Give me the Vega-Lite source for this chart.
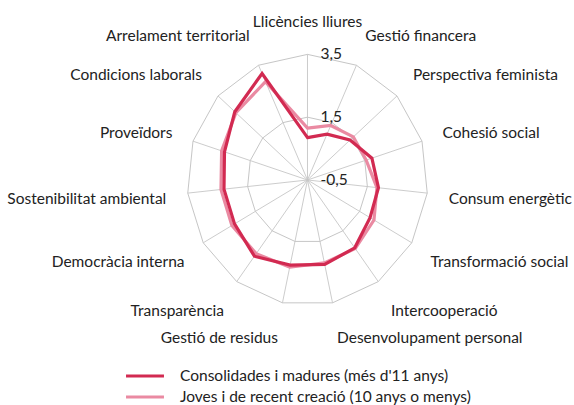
{
  "$schema": "https://vega.github.io/schema/vega-lite/v6.json",
  "width": 574,
  "height": 405,
  "autosize": {"type": "none"},
  "padding": 0,
  "background": "white",
  "config": {"view": {"stroke": null}, "font": "Lato"},
  "datasets": {
    "axes": [
      {"order": 0, "axis": "Llicències lliures"},
      {"order": 1, "axis": "Gestió financera"},
      {"order": 2, "axis": "Perspectiva feminista"},
      {"order": 3, "axis": "Cohesió social"},
      {"order": 4, "axis": "Consum energètic"},
      {"order": 5, "axis": "Transformació social"},
      {"order": 6, "axis": "Intercooperació"},
      {"order": 7, "axis": "Desenvolupament personal"},
      {"order": 8, "axis": "Gestió de residus"},
      {"order": 9, "axis": "Transparència"},
      {"order": 10, "axis": "Democràcia interna"},
      {"order": 11, "axis": "Sostenibilitat ambiental"},
      {"order": 12, "axis": "Proveïdors"},
      {"order": 13, "axis": "Condicions laborals"},
      {"order": 14, "axis": "Arrelament territorial"}
    ],
    "scores": [
      {"order": 0, "axis": "Llicències lliures", "group": "Consolidades i madures (més d'11 anys)", "value": 0.85},
      {"order": 1, "axis": "Gestió financera", "group": "Consolidades i madures (més d'11 anys)", "value": 1.1},
      {"order": 2, "axis": "Perspectiva feminista", "group": "Consolidades i madures (més d'11 anys)", "value": 1.4},
      {"order": 3, "axis": "Cohesió social", "group": "Consolidades i madures (més d'11 anys)", "value": 1.75},
      {"order": 4, "axis": "Consum energètic", "group": "Consolidades i madures (més d'11 anys)", "value": 1.87},
      {"order": 5, "axis": "Transformació social", "group": "Consolidades i madures (més d'11 anys)", "value": 1.9},
      {"order": 6, "axis": "Intercooperació", "group": "Consolidades i madures (més d'11 anys)", "value": 2.17},
      {"order": 7, "axis": "Desenvolupament personal", "group": "Consolidades i madures (més d'11 anys)", "value": 2.25},
      {"order": 8, "axis": "Gestió de residus", "group": "Consolidades i madures (més d'11 anys)", "value": 2.27},
      {"order": 9, "axis": "Transparència", "group": "Consolidades i madures (més d'11 anys)", "value": 2.5},
      {"order": 10, "axis": "Democràcia interna", "group": "Consolidades i madures (més d'11 anys)", "value": 2.3},
      {"order": 11, "axis": "Sostenibilitat ambiental", "group": "Consolidades i madures (més d'11 anys)", "value": 2.29},
      {"order": 12, "axis": "Proveïdors", "group": "Consolidades i madures (més d'11 anys)", "value": 2.4},
      {"order": 13, "axis": "Condicions laborals", "group": "Consolidades i madures (més d'11 anys)", "value": 2.75},
      {"order": 14, "axis": "Arrelament territorial", "group": "Consolidades i madures (més d'11 anys)", "value": 3.21},
      {"order": 0, "axis": "Llicències lliures", "group": "Joves i de recent creació (10 anys o menys)", "value": 1.15},
      {"order": 1, "axis": "Gestió financera", "group": "Joves i de recent creació (10 anys o menys)", "value": 1.4},
      {"order": 2, "axis": "Perspectiva feminista", "group": "Joves i de recent creació (10 anys o menys)", "value": 1.55},
      {"order": 3, "axis": "Cohesió social", "group": "Joves i de recent creació (10 anys o menys)", "value": 1.55},
      {"order": 4, "axis": "Consum energètic", "group": "Joves i de recent creació (10 anys o menys)", "value": 1.82},
      {"order": 5, "axis": "Transformació social", "group": "Joves i de recent creació (10 anys o menys)", "value": 2.05},
      {"order": 6, "axis": "Intercooperació", "group": "Joves i de recent creació (10 anys o menys)", "value": 2.2},
      {"order": 7, "axis": "Desenvolupament personal", "group": "Joves i de recent creació (10 anys o menys)", "value": 2.2},
      {"order": 8, "axis": "Gestió de residus", "group": "Joves i de recent creació (10 anys o menys)", "value": 2.34},
      {"order": 9, "axis": "Transparència", "group": "Joves i de recent creació (10 anys o menys)", "value": 2.4},
      {"order": 10, "axis": "Democràcia interna", "group": "Joves i de recent creació (10 anys o menys)", "value": 2.4},
      {"order": 11, "axis": "Sostenibilitat ambiental", "group": "Joves i de recent creació (10 anys o menys)", "value": 2.39},
      {"order": 12, "axis": "Proveïdors", "group": "Joves i de recent creació (10 anys o menys)", "value": 2.5},
      {"order": 13, "axis": "Condicions laborals", "group": "Joves i de recent creació (10 anys o menys)", "value": 2.7},
      {"order": 14, "axis": "Arrelament territorial", "group": "Joves i de recent creació (10 anys o menys)", "value": 2.93}
    ],
    "ticks": [
      {"value": -0.5, "label": "-0,5"},
      {"value": 1.5, "label": "1,5"},
      {"value": 3.5, "label": "3,5"}
    ]
  },
  "layer": [
    {
      "data": {"name": "axes"},
      "transform": [
        {"calculate": "datum.order * 2 * PI / 15", "as": "a"},
        {"calculate": "0", "as": "zero"},
        {"calculate": "4 * sin(datum.a)", "as": "ex"},
        {"calculate": "4 * cos(datum.a)", "as": "ey"}
      ],
      "mark": {"type": "rule", "color": "#c6c6c6", "strokeWidth": 0.9},
      "encoding": {
        "x": {"field": "zero", "type": "quantitative", "scale": {"domain": [-10.216, 8.854], "nice": false, "zero": false}, "axis": null},
        "y": {"field": "zero", "type": "quantitative", "scale": {"domain": [-7.166, 5.732], "nice": false, "zero": false}, "axis": null},
        "x2": {"field": "ex"},
        "y2": {"field": "ey"}
      }
    },
    {
      "data": {"name": "axes"},
      "transform": [
        {"calculate": "datum.order * 2 * PI / 15", "as": "a"},
        {"calculate": "2 * sin(datum.a)", "as": "px"},
        {"calculate": "2 * cos(datum.a)", "as": "py"}
      ],
      "mark": {"type": "line", "interpolate": "linear-closed", "color": "#c6c6c6", "strokeWidth": 1},
      "encoding": {
        "x": {"field": "px", "type": "quantitative", "scale": {"domain": [-10.216, 8.854], "nice": false, "zero": false}, "axis": null},
        "y": {"field": "py", "type": "quantitative", "scale": {"domain": [-7.166, 5.732], "nice": false, "zero": false}, "axis": null},
        "order": {"field": "order"}
      }
    },
    {
      "data": {"name": "axes"},
      "transform": [
        {"calculate": "datum.order * 2 * PI / 15", "as": "a"},
        {"calculate": "4 * sin(datum.a)", "as": "px"},
        {"calculate": "4 * cos(datum.a)", "as": "py"}
      ],
      "mark": {"type": "line", "interpolate": "linear-closed", "color": "#c6c6c6", "strokeWidth": 1},
      "encoding": {
        "x": {"field": "px", "type": "quantitative", "scale": {"domain": [-10.216, 8.854], "nice": false, "zero": false}, "axis": null},
        "y": {"field": "py", "type": "quantitative", "scale": {"domain": [-7.166, 5.732], "nice": false, "zero": false}, "axis": null},
        "order": {"field": "order"}
      }
    },
    {
      "data": {"name": "scores"},
      "transform": [
        {"filter": "datum.group == 'Joves i de recent creació (10 anys o menys)'"},
        {"calculate": "datum.order * 2 * PI / 15", "as": "a"},
        {"calculate": "(datum.value + 0.5) * sin(datum.a)", "as": "px"},
        {"calculate": "(datum.value + 0.5) * cos(datum.a)", "as": "py"}
      ],
      "mark": {"type": "line", "interpolate": "linear-closed", "strokeWidth": 3.2},
      "encoding": {
        "x": {"field": "px", "type": "quantitative", "scale": {"domain": [-10.216, 8.854], "nice": false, "zero": false}, "axis": null},
        "y": {"field": "py", "type": "quantitative", "scale": {"domain": [-7.166, 5.732], "nice": false, "zero": false}, "axis": null},
        "order": {"field": "order"},
        "color": {
          "field": "group", "type": "nominal",
          "scale": {"domain": ["Consolidades i madures (més d'11 anys)", "Joves i de recent creació (10 anys o menys)"], "range": ["#d22a51", "#ea8aa2"]},
          "legend": {
            "orient": "none", "legendX": 137, "legendY": 368, "title": null,
            "symbolType": "M-3,0H3", "symbolSize": 160, "symbolStrokeWidth": 3.2,
            "labelFontSize": 15.5, "labelColor": "#222222", "labelFont": "Lato",
            "labelOffset": 27, "rowPadding": 4, "labelLimit": 400
          }
        }
      }
    },
    {
      "data": {"name": "scores"},
      "transform": [
        {"filter": "datum.group == \"Consolidades i madures (més d'11 anys)\""},
        {"calculate": "datum.order * 2 * PI / 15", "as": "a"},
        {"calculate": "(datum.value + 0.5) * sin(datum.a)", "as": "px"},
        {"calculate": "(datum.value + 0.5) * cos(datum.a)", "as": "py"}
      ],
      "mark": {"type": "line", "interpolate": "linear-closed", "strokeWidth": 3.2},
      "encoding": {
        "x": {"field": "px", "type": "quantitative", "scale": {"domain": [-10.216, 8.854], "nice": false, "zero": false}, "axis": null},
        "y": {"field": "py", "type": "quantitative", "scale": {"domain": [-7.166, 5.732], "nice": false, "zero": false}, "axis": null},
        "order": {"field": "order"},
        "color": {"field": "group", "type": "nominal"}
      }
    },
    {
      "data": {"name": "ticks"},
      "transform": [
        {"calculate": "0", "as": "zero"},
        {"calculate": "datum.value + 0.5", "as": "py"}
      ],
      "mark": {"type": "text", "align": "left", "baseline": "middle", "dx": 13, "fontSize": 15.5, "color": "#222222", "font": "Lato"},
      "encoding": {
        "x": {"field": "zero", "type": "quantitative", "scale": {"domain": [-10.216, 8.854], "nice": false, "zero": false}, "axis": null},
        "y": {"field": "py", "type": "quantitative", "scale": {"domain": [-7.166, 5.732], "nice": false, "zero": false}, "axis": null},
        "text": {"field": "label"}
      }
    },
    {
      "data": {"name": "axes"},
      "transform": [
        {"filter": "datum.order == 0"},
        {"calculate": "datum.order * 2 * PI / 15", "as": "a"},
        {"calculate": "4.718 * sin(datum.a)", "as": "px"},
        {"calculate": "5.086 * cos(datum.a) - 0.06", "as": "py"}
      ],
      "mark": {"type": "text", "align": "center", "baseline": "middle", "fontSize": 15.5, "color": "#222222", "font": "Lato"},
      "encoding": {
        "x": {"field": "px", "type": "quantitative", "scale": {"domain": [-10.216, 8.854], "nice": false, "zero": false}, "axis": null},
        "y": {"field": "py", "type": "quantitative", "scale": {"domain": [-7.166, 5.732], "nice": false, "zero": false}, "axis": null},
        "text": {"field": "axis"}
      }
    },
    {
      "data": {"name": "axes"},
      "transform": [
        {"filter": "datum.order >= 1 && datum.order <= 7"},
        {"calculate": "datum.order * 2 * PI / 15", "as": "a"},
        {"calculate": "4.718 * sin(datum.a)", "as": "px"},
        {"calculate": "5.086 * cos(datum.a) - 0.06", "as": "py"}
      ],
      "mark": {"type": "text", "align": "left", "baseline": "middle", "fontSize": 15.5, "color": "#222222", "font": "Lato"},
      "encoding": {
        "x": {"field": "px", "type": "quantitative", "scale": {"domain": [-10.216, 8.854], "nice": false, "zero": false}, "axis": null},
        "y": {"field": "py", "type": "quantitative", "scale": {"domain": [-7.166, 5.732], "nice": false, "zero": false}, "axis": null},
        "text": {"field": "axis"}
      }
    },
    {
      "data": {"name": "axes"},
      "transform": [
        {"filter": "datum.order >= 8"},
        {"calculate": "datum.order * 2 * PI / 15", "as": "a"},
        {"calculate": "4.718 * sin(datum.a)", "as": "px"},
        {"calculate": "5.086 * cos(datum.a) - 0.06", "as": "py"}
      ],
      "mark": {"type": "text", "align": "right", "baseline": "middle", "fontSize": 15.5, "color": "#222222", "font": "Lato"},
      "encoding": {
        "x": {"field": "px", "type": "quantitative", "scale": {"domain": [-10.216, 8.854], "nice": false, "zero": false}, "axis": null},
        "y": {"field": "py", "type": "quantitative", "scale": {"domain": [-7.166, 5.732], "nice": false, "zero": false}, "axis": null},
        "text": {"field": "axis"}
      }
    }
  ]
}
